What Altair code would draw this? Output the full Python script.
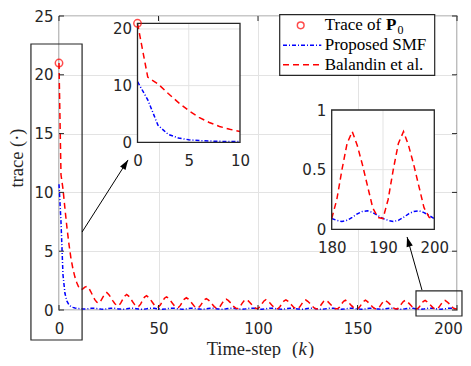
import altair as alt
import pandas as pd

# ---------------- data ----------------
steps = list(range(201))
p0_step = [0]
p0_trace = [21.0]

balandin = [
    21.0, 11.5, 10.3, 8.6, 7.0, 5.6, 4.4, 3.5, 2.8, 2.3,
    1.9, 1.72, 1.8, 1.95, 2.0, 1.85, 1.55, 1.2, 0.88, 0.66,
    0.58, 0.78, 1.08, 1.35, 1.48, 1.32, 1.08, 0.80, 0.55, 0.40,
    0.38, 0.58, 0.90, 1.18, 1.32, 1.18, 0.96, 0.70, 0.46, 0.32,
    0.30, 0.50, 0.82, 1.10, 1.22, 1.08, 0.88, 0.64, 0.40, 0.27,
    0.25, 0.44, 0.74, 1.00, 1.12, 1.00, 0.80, 0.58, 0.36, 0.23,
    0.21, 0.39, 0.68, 0.93, 1.04, 0.92, 0.74, 0.53, 0.32, 0.19,
    0.18, 0.35, 0.62, 0.86, 0.97, 0.86, 0.69, 0.49, 0.29, 0.16,
    0.15, 0.32, 0.59, 0.82, 0.93, 0.82, 0.65, 0.46, 0.26, 0.14,
    0.13, 0.30, 0.56, 0.79, 0.90, 0.79, 0.62, 0.43, 0.24, 0.13,
    0.12, 0.29, 0.54, 0.77, 0.88, 0.77, 0.60, 0.41, 0.23, 0.12,
    0.11, 0.28, 0.53, 0.76, 0.86, 0.75, 0.58, 0.40, 0.22, 0.11,
    0.10, 0.27, 0.52, 0.75, 0.85, 0.74, 0.57, 0.39, 0.21, 0.11,
    0.10, 0.26, 0.51, 0.74, 0.84, 0.73, 0.56, 0.38, 0.20, 0.10,
    0.10, 0.26, 0.51, 0.73, 0.83, 0.72, 0.56, 0.37, 0.20, 0.10,
    0.09, 0.25, 0.50, 0.72, 0.83, 0.71, 0.55, 0.37, 0.19, 0.10,
    0.09, 0.25, 0.50, 0.72, 0.82, 0.70, 0.54, 0.36, 0.18, 0.10,
    0.09, 0.25, 0.50, 0.72, 0.82, 0.70, 0.54, 0.36, 0.18, 0.10,
    0.09, 0.25, 0.50, 0.72, 0.82, 0.70, 0.54, 0.36, 0.18, 0.10,
    0.09, 0.25, 0.50, 0.72, 0.82, 0.70, 0.54, 0.36, 0.18, 0.10,
    0.09,
]

smf = [
    10.7, 7.5, 3.0, 1.4, 0.75, 0.45, 0.30, 0.22, 0.17, 0.14,
    0.12, 0.10, 0.09, 0.09, 0.10, 0.12, 0.14, 0.15, 0.14, 0.12,
    0.09, 0.075, 0.065, 0.075, 0.10, 0.13, 0.15, 0.155, 0.14, 0.115,
    0.09, 0.075, 0.065, 0.075, 0.10, 0.13, 0.15, 0.155, 0.14, 0.115,
    0.09, 0.075, 0.065, 0.075, 0.10, 0.13, 0.15, 0.155, 0.14, 0.115,
    0.09, 0.075, 0.065, 0.075, 0.10, 0.13, 0.15, 0.155, 0.14, 0.115,
    0.09, 0.075, 0.065, 0.075, 0.10, 0.13, 0.15, 0.155, 0.14, 0.115,
    0.09, 0.075, 0.065, 0.075, 0.10, 0.13, 0.15, 0.155, 0.14, 0.115,
    0.09, 0.075, 0.065, 0.075, 0.10, 0.13, 0.15, 0.155, 0.14, 0.115,
    0.09, 0.075, 0.065, 0.075, 0.10, 0.13, 0.15, 0.155, 0.14, 0.115,
    0.09, 0.075, 0.065, 0.075, 0.10, 0.13, 0.15, 0.155, 0.14, 0.115,
    0.09, 0.075, 0.065, 0.075, 0.10, 0.13, 0.15, 0.155, 0.14, 0.115,
    0.09, 0.075, 0.065, 0.075, 0.10, 0.13, 0.15, 0.155, 0.14, 0.115,
    0.09, 0.075, 0.065, 0.075, 0.10, 0.13, 0.15, 0.155, 0.14, 0.115,
    0.09, 0.075, 0.065, 0.075, 0.10, 0.13, 0.15, 0.155, 0.14, 0.115,
    0.09, 0.075, 0.065, 0.075, 0.10, 0.13, 0.15, 0.155, 0.14, 0.115,
    0.09, 0.075, 0.065, 0.075, 0.10, 0.13, 0.15, 0.155, 0.14, 0.115,
    0.09, 0.075, 0.065, 0.075, 0.10, 0.13, 0.15, 0.155, 0.14, 0.115,
    0.09, 0.075, 0.065, 0.075, 0.10, 0.13, 0.15, 0.155, 0.14, 0.115,
    0.09, 0.075, 0.065, 0.075, 0.10, 0.13, 0.15, 0.155, 0.14, 0.115,
    0.09,
]

x_ticks = [0, 50, 100, 150, 200]
y_ticks = [0, 5, 10, 15, 20, 25]
inset1_x_ticks = [0, 5, 10]
inset1_y_ticks = [0, 10, 20]
inset2_x_ticks = [180, 190, 200]
inset2_y_ticks = [0, 0.5, 1]

legend_labels = ["Trace of", "Proposed SMF", "Balandin et al."]

# zoom boxes (data coordinates of main axes) and arrows
box_x0 = [-14.1, 179.4]
box_x1 = [11.6, 202.5]
box_y0 = [-2.55, -0.51]
box_y1 = [22.62, 1.62]
arrow_x0 = [11.6, 182.4]
arrow_y0 = [6.63, 1.70]
arrow_x1 = [34.7, 174.9]
arrow_y1 = [12.76, 6.21]
arrow_angle = [32.6, 344.2]

# ---------------- layout / styles ----------------
W, H = 398, 294
LEFT, TOP = 59, 16          # page position of the plot area


def rx(p):
    return p - LEFT


def ry(p):
    return p - TOP


AX = "#262626"
GRID = "#e3e3e3"
RED = "#ff0000"
BLUE = "#0000ff"
TICKFONT = "DejaVu Sans"
SERIF = "Liberation Serif"

df = pd.DataFrame({"k": steps, "bal": balandin, "smf": smf})
df1 = df[df.k <= 10]
df2 = df[df.k >= 180]
dp0 = pd.DataFrame({"k": p0_step, "v": p0_trace})

mx = alt.Scale(domain=[0, 200], nice=False, zero=False)
my = alt.Scale(domain=[0, 25], nice=False, zero=False)
i1x = alt.Scale(domain=[0, 10], range=[rx(137.5), rx(240)], nice=False, zero=False)
i1y = alt.Scale(domain=[0, 21], range=[ry(142.3), ry(23.3)], nice=False, zero=False)
i2x = alt.Scale(domain=[180, 200], range=[rx(331.7), rx(434.3)], nice=False, zero=False)
i2y = alt.Scale(domain=[0, 1], range=[ry(229.3), ry(110)], nice=False, zero=False)

RED_DASH = [6, 4]
BLUE_DASH = [4, 2, 1, 2]


def lab_axis(**kw):
    base = dict(title=None, grid=False, ticks=False, domain=False,
                labelFont=TICKFONT, labelFontSize=15, labelColor=AX,
                labelFlush=False, labelOverlap=False)
    base.update(kw)
    return alt.Axis(**base)


layers = []

# ---- main plot ----
layers.append(alt.Chart(df).mark_line(color=BLUE, strokeWidth=1.5, strokeDash=BLUE_DASH).encode(
    x=alt.X("k:Q", scale=mx, axis=lab_axis(
        values=x_ticks, orient="bottom", grid=True, gridColor=GRID, labelPadding=11,
        labelOffset=alt.condition("datum.value == 200", alt.value(-9), alt.value(0)))),
    y=alt.Y("smf:Q", scale=my, axis=lab_axis(values=y_ticks, orient="left", grid=True,
                                              gridColor=GRID, labelPadding=6)),
))
layers.append(alt.Chart(df).mark_line(color=RED, strokeWidth=1.5, strokeDash=RED_DASH).encode(
    x=alt.X("k:Q", scale=mx, axis=None), y=alt.Y("bal:Q", scale=my, axis=None)))
layers.append(alt.Chart(dp0).mark_point(color=RED, size=55, strokeWidth=1.5, filled=False).encode(
    x=alt.X("k:Q", scale=mx, axis=None), y=alt.Y("v:Q", scale=my, axis=None)))

# inward ticks of main axes (box style)
dxt = pd.DataFrame({"v": x_ticks})
dyt = pd.DataFrame({"v": y_ticks})
for y0, y1 in [(H, H - 5), (0, 5)]:
    layers.append(alt.Chart(dxt).mark_rule(color=AX, strokeWidth=1).encode(
        x=alt.X("v:Q", scale=mx, axis=None), y=alt.value(y0), y2=alt.value(y1)))
for x0, x1 in [(0, 5), (W, W - 5)]:
    layers.append(alt.Chart(dyt).mark_rule(color=AX, strokeWidth=1).encode(
        y=alt.Y("v:Q", scale=my, axis=None), x=alt.value(x0), x2=alt.value(x1)))

# zoom boxes
dbox = pd.DataFrame({"x0": box_x0, "x1": box_x1, "y0": box_y0, "y1": box_y1})
layers.append(alt.Chart(dbox).mark_rect(fillOpacity=0, stroke=AX, strokeWidth=1.2).encode(
    x=alt.X("x0:Q", scale=mx, axis=None), x2="x1:Q",
    y=alt.Y("y0:Q", scale=my, axis=None), y2="y1:Q"))

# arrows
darr = pd.DataFrame({"x0": arrow_x0, "y0": arrow_y0, "x1": arrow_x1, "y1": arrow_y1, "ang": arrow_angle})
layers.append(alt.Chart(darr).mark_rule(color="black", strokeWidth=1).encode(
    x=alt.X("x0:Q", scale=mx, axis=None), x2="x1:Q",
    y=alt.Y("y0:Q", scale=my, axis=None), y2="y1:Q"))
layers.append(alt.Chart(darr).mark_point(shape="M0,0L0.33,1L-0.33,1Z", filled=True, color="black",
                                         size=380, opacity=1).encode(
    x=alt.X("x1:Q", scale=mx, axis=None), y=alt.Y("y1:Q", scale=my, axis=None),
    angle=alt.Angle("ang:Q", scale=None)))


# ---- inset helper ----
def inset(dsub, sx, sy, xdom, ydom, xt, yt, xoff, yoff, yfmt):
    out = []
    frame = pd.DataFrame({"x0": [xdom[0]], "x1": [xdom[1]], "y0": [ydom[0]], "y1": [ydom[1]]})
    out.append(alt.Chart(frame).mark_rect(fill="white", stroke=None).encode(
        x=alt.X("x0:Q", scale=sx, axis=None), x2="x1:Q",
        y=alt.Y("y0:Q", scale=sy, axis=None), y2="y1:Q"))
    gx = pd.DataFrame({"v": [t for t in xt if xdom[0] < t < xdom[1]]})
    gx["lo"], gx["hi"] = ydom[0], ydom[1]
    gy = pd.DataFrame({"v": [t for t in yt if ydom[0] < t < ydom[1]]})
    gy["lo"], gy["hi"] = xdom[0], xdom[1]
    out.append(alt.Chart(gx).mark_rule(color=GRID, strokeWidth=1).encode(
        x=alt.X("v:Q", scale=sx, axis=None), y=alt.Y("lo:Q", scale=sy, axis=None), y2="hi:Q"))
    out.append(alt.Chart(gy).mark_rule(color=GRID, strokeWidth=1).encode(
        y=alt.Y("v:Q", scale=sy, axis=None), x=alt.X("lo:Q", scale=sx, axis=None), x2="hi:Q"))
    out.append(alt.Chart(dsub).mark_line(color=BLUE, strokeWidth=1.5, strokeDash=BLUE_DASH).encode(
        x=alt.X("k:Q", scale=sx, axis=lab_axis(values=xt, orient="bottom", offset=xoff,
                                                labelPadding=11, zindex=1)),
        y=alt.Y("smf:Q", scale=sy, axis=lab_axis(values=yt, orient="left", offset=yoff,
                                                  labelPadding=6, zindex=1, format=yfmt))))
    out.append(alt.Chart(dsub).mark_line(color=RED, strokeWidth=1.5, strokeDash=RED_DASH).encode(
        x=alt.X("k:Q", scale=sx, axis=None), y=alt.Y("bal:Q", scale=sy, axis=None)))
    out.append(alt.Chart(frame).mark_rect(fillOpacity=0, stroke=AX, strokeWidth=1.3).encode(
        x=alt.X("x0:Q", scale=sx, axis=None), x2="x1:Q",
        y=alt.Y("y0:Q", scale=sy, axis=None), y2="y1:Q"))
    return out


layers += inset(df1, i1x, i1y, [0, 10], [0, 21], inset1_x_ticks, inset1_y_ticks,
                ry(142.3) - H, -rx(137.5), "~g")
layers.append(alt.Chart(dp0).mark_point(color=RED, size=55, strokeWidth=1.5, filled=False).encode(
    x=alt.X("k:Q", scale=i1x, axis=None), y=alt.Y("v:Q", scale=i1y, axis=None)))
layers += inset(df2, i2x, i2y, [180, 200], [0, 1], inset2_x_ticks, inset2_y_ticks,
                ry(229.3) - H, -rx(331.7), "~g")

# ---- legend ----
one = pd.DataFrame({"a": [0]})
row_y = [ry(25.3), ry(45.3), ry(64.7)]
layers.append(alt.Chart(one).mark_rect(fill="white", stroke=AX, strokeWidth=1.2).encode(
    x=alt.value(rx(279.7)), x2=alt.value(rx(434.7)), y=alt.value(ry(14.7)), y2=alt.value(ry(75.3))))
layers.append(alt.Chart(one).mark_point(color=RED, size=45, strokeWidth=1.5, filled=False).encode(
    x=alt.value(rx(300.7)), y=alt.value(row_y[0])))
layers.append(alt.Chart(one).mark_rule(color=BLUE, strokeWidth=1.5, strokeDash=BLUE_DASH).encode(
    x=alt.value(rx(283)), x2=alt.value(rx(321.3)), y=alt.value(row_y[1])))
layers.append(alt.Chart(one).mark_rule(color=RED, strokeWidth=1.5, strokeDash=RED_DASH).encode(
    x=alt.value(rx(283)), x2=alt.value(rx(321.3)), y=alt.value(row_y[2])))
for lab, yy in zip(legend_labels, row_y):
    layers.append(alt.Chart(one).mark_text(text=lab, font=SERIF, fontSize=17, align="left",
                                           baseline="middle", color="black").encode(
        x=alt.value(rx(324.7)), y=alt.value(yy)))
layers.append(alt.Chart(one).mark_text(text="P", font=SERIF, fontSize=17, fontWeight="bold",
                                       align="left", baseline="middle", color="black").encode(
    x=alt.value(rx(386)), y=alt.value(row_y[0])))
layers.append(alt.Chart(one).mark_text(text="0", font=SERIF, fontSize=12, align="left",
                                       baseline="middle", color="black").encode(
    x=alt.value(rx(397.5)), y=alt.value(row_y[0] + 4.2)))

# ---- axis titles ----
TY = ry(349)
layers.append(alt.Chart(one).mark_text(text="Time-step", font=SERIF, fontSize=18.5, align="right",
                                       baseline="middle", color=AX).encode(
    x=alt.value(rx(281)), y=alt.value(TY)))
layers.append(alt.Chart(one).mark_text(text="(", font=SERIF, fontSize=18.5, align="left",
                                       baseline="middle", color=AX).encode(
    x=alt.value(rx(292)), y=alt.value(TY)))
layers.append(alt.Chart(one).mark_text(text="k", font=SERIF, fontSize=18.5, fontStyle="italic",
                                       align="left", baseline="middle", color=AX).encode(
    x=alt.value(rx(298.5)), y=alt.value(TY)))
layers.append(alt.Chart(one).mark_text(text=")", font=SERIF, fontSize=18.5, align="left",
                                       baseline="middle", color=AX).encode(
    x=alt.value(rx(308)), y=alt.value(TY)))
layers.append(alt.Chart(one).mark_text(text="trace (·)", font=SERIF, fontSize=18.5, angle=270,
                                       align="center", baseline="middle", color=AX).encode(
    x=alt.value(rx(17)), y=alt.value(ry(158))))

chart = alt.layer(*layers).resolve_scale(x="independent", y="independent").properties(
    width=W, height=H,
    autosize=alt.AutoSizeParams(type="none"),
    padding={"left": LEFT - 8, "top": TOP - 8, "right": 6, "bottom": 48},
).configure_view(stroke=AX, strokeWidth=1.2)

chart.save("out.html", embed_options={"renderer": "svg", "actions": False})
